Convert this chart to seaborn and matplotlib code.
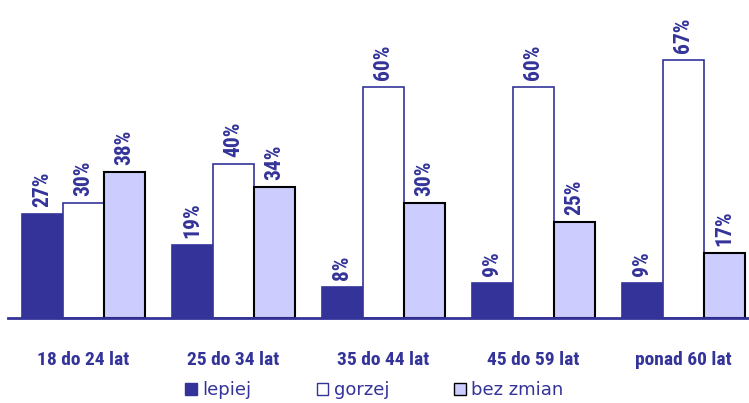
import pandas as pd
import seaborn as sns
import matplotlib.pyplot as plt
from matplotlib import font_manager
from matplotlib.patches import Patch

# values
groups = ["18 do 24 lat", "25 do 34 lat", "35 do 44 lat", "45 do 59 lat", "ponad 60 lat"]
lepiej = [27, 19, 8, 9, 9]
gorzej = [30, 40, 60, 60, 67]
bez_zmian = [38, 34, 30, 25, 17]
series = ["lepiej", "gorzej", "bez zmian"]

NAVY = "#333399"
fills = {"lepiej": NAVY, "gorzej": "#ffffff", "bez zmian": "#ccccff"}
edges = {"lepiej": NAVY, "gorzej": NAVY, "bez zmian": "#000000"}

df = pd.DataFrame({
    "grupa": groups * 3,
    "odp": [s for s in series for _ in groups],
    "val": lepiej + gorzej + bez_zmian,
})

# pick the narrowest family that is installed
installed = {f.name for f in font_manager.fontManager.ttflist}
narrow = [f for f in ["Roboto Condensed", "Liberation Sans Narrow", "DejaVu Sans Condensed",
                      "Liberation Sans"] if f in installed]

sns.set_style("white")
plt.rcParams["font.family"] = narrow[:1] + ["DejaVu Sans"]

fig = plt.figure(figsize=(7.49, 4.03), dpi=100)
ax = fig.add_axes([0.011, 0.211, 0.989, 0.764])
sns.barplot(data=df, x="grupa", y="val", hue="odp", order=groups, hue_order=series,
            palette=fills, width=0.82, ax=ax, legend=False, saturation=1)

for s, cont in zip(series, ax.containers):
    for bar in cont:
        bar.set_edgecolor(edges[s])
        bar.set_linewidth(1.5 if s == "bez zmian" else 1.2)
    ax.bar_label(cont, labels=[f"{int(v)}%" for v in cont.datavalues], rotation=90,
                 padding=5, color=NAVY, fontsize=15.5, fontweight="bold")

ax.set_xlim(-0.5, 4.44)
ax.set_ylim(0, 80)
ax.set_xlabel("")
ax.set_ylabel("")
ax.set_yticks([])
ax.tick_params(axis="x", length=0, pad=24, colors=NAVY)
for lab in ax.get_xticklabels():
    lab.set_fontweight("bold")
    lab.set_fontsize(14)
for sp in ["left", "right", "top"]:
    ax.spines[sp].set_visible(False)
ax.spines["bottom"].set_color(NAVY)
ax.spines["bottom"].set_linewidth(2)

handles = [Patch(facecolor=fills[s], edgecolor=edges[s], label=s) for s in series]
leg = fig.legend(handles=handles, ncol=3, loc="center", bbox_to_anchor=(0.5, 0.032),
                 frameon=False, handlelength=0.65, handleheight=0.65, handletextpad=0.3,
                 columnspacing=3.6, prop={"family": "DejaVu Sans", "size": 13})
for t in leg.get_texts():
    t.set_color(NAVY)

fig.savefig("out.png", dpi=100)
